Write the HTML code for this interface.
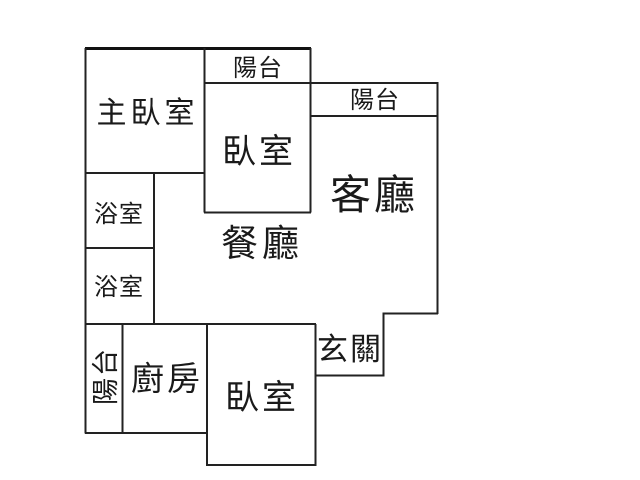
<!DOCTYPE html>
<html><head><meta charset="utf-8"><style>
html,body{margin:0;padding:0;background:#fff;width:640px;height:480px;overflow:hidden}
svg{display:block}
text{font-family:"Liberation Sans","WenQuanYi Zen Hei","Noto Sans CJK TC",sans-serif;fill:#1a1a1a}
</style></head><body>
<svg width="640" height="480" viewBox="0 0 640 480" xmlns="http://www.w3.org/2000/svg">
<g stroke="#222" stroke-width="2" fill="none">
<path d="M85 48.5H311" stroke-width="3" stroke="#111"/>
<path d="M85.5 48V433.5"/>
<path d="M204.5 48V212.5"/>
<path d="M310.5 48V212.5"/>
<path d="M204 83H311"/>
<path d="M204 212.5H311"/>
<path d="M310 83H438"/>
<path d="M310 116H438"/>
<path d="M437.5 82V314"/>
<path d="M438 313.5H383.5V375.5H315"/>
<path d="M85 173H205"/>
<path d="M154 173V324"/>
<path d="M85 248H155"/>
<path d="M85 324H316"/>
<path d="M122.500 324V433"/>
<path d="M85 433H207"/>
<path d="M207 324V465"/>
<path d="M315.500 324V466"/>
<path d="M206 465H316"/>
</g>
<text x="96.500" y="123" font-size="30" letter-spacing="4">主臥室</text>
<text x="222" y="163" font-size="34" letter-spacing="3">臥室</text>
<text x="233" y="76" font-size="24" letter-spacing="1">陽台</text>
<text x="350" y="108" font-size="24" letter-spacing="1">陽台</text>
<text x="330" y="209" font-size="41" letter-spacing="3">客廳</text>
<text x="221" y="256" font-size="37" letter-spacing="4">餐廳</text>
<text x="94" y="222" font-size="24" letter-spacing="1">浴室</text>
<text x="94" y="295" font-size="24" letter-spacing="1">浴室</text>
<text x="131" y="390" font-size="33" letter-spacing="3">廚房</text>
<text x="225" y="409" font-size="34" letter-spacing="3">臥室</text>
<text x="317" y="360" font-size="31" letter-spacing="2">玄關</text>
<text transform="translate(115,405) rotate(-90)" font-size="27" letter-spacing="2">陽台</text>
</svg>
</body></html>
